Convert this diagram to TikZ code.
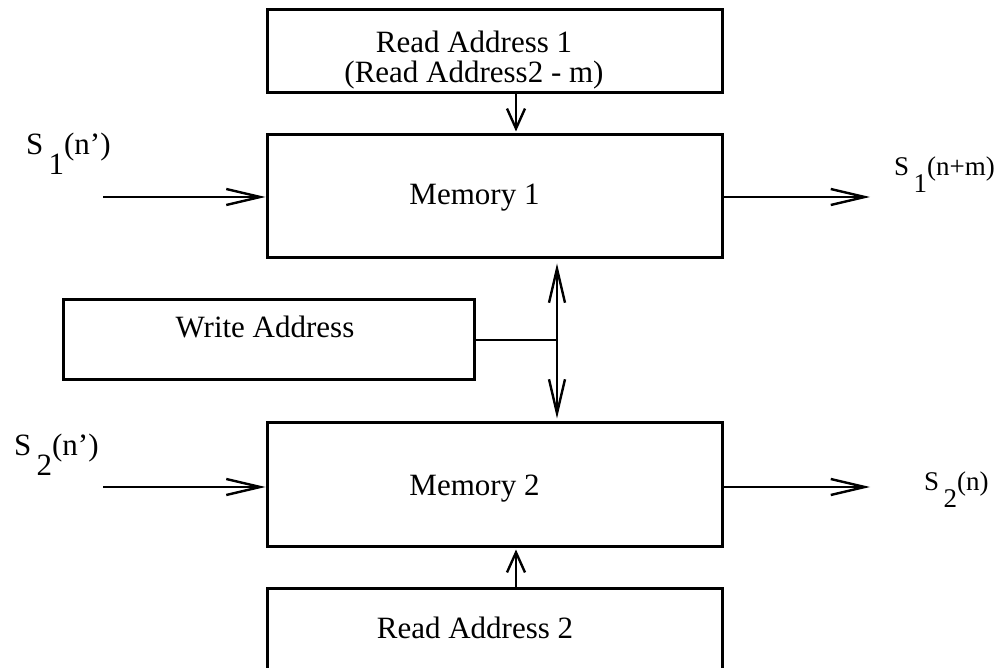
\documentclass[tikz,border=0pt]{standalone}
\usepackage{fontspec}
\setmainfont{Liberation Serif}
\usetikzlibrary{arrows.meta}
\newcommand{\sig}[2]{S\,\raisebox{-10pt}{#1}#2}
\newcommand{\sigr}[2]{S\,\raisebox{-8.5pt}{#1}#2}

\begin{document}
\begin{tikzpicture}[x=0.5pt, y=-0.5pt, line width=1.2pt,
    >={Straight Barb[length=17pt,width=8pt]},
    shrt/.style={-{Straight Barb[length=10pt,width=9pt]}},
    blk/.style={draw, line width=1.5pt, inner sep=0pt, minimum width=227.5pt},
    txt/.style={inner sep=0pt, anchor=base, font=\fontsize{15.5}{19}\selectfont},
    sgl/.style={inner sep=0pt, anchor=base west, font=\fontsize{15.5}{19}\selectfont},
    sgr/.style={inner sep=0pt, anchor=base west, font=\fontsize{13.5}{16}\selectfont}]
    \clip (0,0) rectangle (1002,668);
    % boxes
    \node[blk, minimum height=41.5pt] (ra1) at (494.5, 51.5) {};
    \node[blk, minimum height=61.5pt] (mem1) at (494.5, 196.5) {};
    \node[blk, minimum height=40pt, minimum width=205.5pt] (wa) at (268.5, 340) {};
    \node[blk, minimum height=61.5pt] (mem2) at (494.5, 484.5) {};
    \node[blk, minimum height=56pt] (ra2) at (494.5, 644) {};
    % texts
    \node[txt] (t1) at (474, 53) {Read Address 1};
    \node[txt] (t2) at (474, 83) {(Read Address2 - m)};
    \node[txt] (t3) at (474.5, 205) {Memory 1};
    \node[txt] (t4) at (265, 338) {Write Address};
    \node[txt] (t5) at (474.5, 495) {Memory 2};
    \node[txt] (t6) at (475, 638) {Read Address 2};
    % signals
    \node[sgl] (s1) at (25, 155) {\sig{1}{(n')}};
    \node[sgr] (s2) at (893, 176) {\sigr{1}{(n+m)}};
    \node[sgl] (s3) at (13, 455) {\sig{2}{(n')}};
    \node[sgr] (s4) at (923, 490) {\sigr{2}{(n)}};
    % helper points
    \coordinate (0) at (103, 197);
    \coordinate (1) at (870, 197);
    \coordinate (2) at (103, 487);
    \coordinate (3) at (870, 487);
    \coordinate (4) at (516, 0);
    \coordinate (5) at (557, 340);
    % connectors
    \draw[->] (0) -- (0 -| mem1.west);
    \draw[->] (0 -| mem1.east) -- (1);
    \draw[->] (2) -- (2 -| mem2.west);
    \draw[->] (2 -| mem2.east) -- (3);
    \draw[shrt] (ra1.south -| 4) -- ([yshift=1pt]mem1.north -| 4);
    \draw[shrt] (ra2.north -| 4) -- ([yshift=-1pt]mem2.south -| 4);
    \draw (wa.east |- 5) -- (5);
    \draw[<->] ([yshift=-2pt]mem1.south -| 5) -- ([yshift=1.5pt]mem2.north -| 5);
\end{tikzpicture}
\end{document}
